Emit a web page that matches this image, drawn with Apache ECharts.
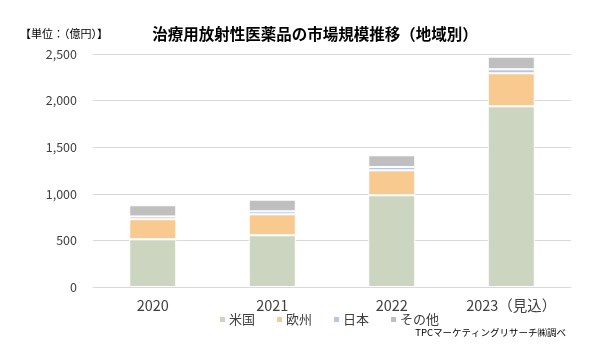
<!DOCTYPE html>
<html><head><meta charset="utf-8">
<script src="https://cdn.jsdelivr.net/npm/echarts@6/dist/echarts.min.js"></script>
<style>html,body{margin:0;padding:0;background:#fff}#c{width:600px;height:348px}</style>
</head><body><div id="c"></div>
<script>
const categories = ['2020', '2021', '2022', '2023（見込）'];
const seriesNames = ['米国', '欧州', '日本', 'その他'];
const usa = [512, 555, 984, 1939];
const europe = [215, 225, 268, 354];
const japan = [30, 32, 36, 43];
const others = [120, 125, 125, 135];
const yTicks = [0, 500, 1000, 1500, 2000, 2500];
const colors = ['#cbd5bf', '#f8ca8f', '#b5c7e4', '#bfbfbf'];
const FONT = '"Noto Sans CJK JP", "Noto Sans", sans-serif';

const values = [usa, europe, japan, others];
const chart = echarts.init(document.getElementById('c'), null, {renderer: 'canvas'});
chart.setOption({
  animation: false,
  textStyle: {fontFamily: FONT},
  grid: {left: 93, right: 29, top: 54, bottom: 61},
  title: {
    text: '治療用放射性医薬品の市場規模推移（地域別）',
    left: 310, textAlign: 'center', top: 21,
    textStyle: {fontFamily: FONT, fontSize: 15.5, fontWeight: 'bold', color: '#000'}
  },
  graphic: [
    {type: 'text', left: 20, top: 28, style: {text: '【単位：（億円）】', font: '11px ' + FONT, fill: '#000'}},
    {type: 'text', right: 34, top: 328, style: {text: 'TPCマーケティングリサーチ㈱調べ', font: '9.5px ' + FONT, fill: '#000'}}
  ],
  legend: {
    data: seriesNames,
    left: 213, top: 308,
    icon: 'rect', itemWidth: 7, itemHeight: 7, itemGap: 20,
    textStyle: {fontFamily: FONT, fontSize: 13, color: '#404040', padding: [0, 0, 0, -2]}
  },
  xAxis: {
    type: 'category', data: categories,
    axisLine: {lineStyle: {color: '#d9d9d9', width: 1}},
    axisTick: {show: false},
    axisLabel: {fontFamily: FONT, fontSize: 14.5, color: '#404040', margin: 11}
  },
  yAxis: {
    type: 'value', min: yTicks[0], max: yTicks[yTicks.length - 1], interval: 500,
    axisLine: {show: false}, axisTick: {show: false},
    splitLine: {lineStyle: {color: '#d9d9d9', width: 1}},
    axisLabel: {
      fontFamily: FONT, fontSize: 12.5, color: '#404040', margin: 16,
      formatter: v => v.toLocaleString('en-US')
    }
  },
  series: seriesNames.map((n, i) => ({
    name: n, type: 'bar', stack: 'total', data: values[i],
    barWidth: 47,
    itemStyle: {color: colors[i], borderColor: '#fff', borderWidth: 1}
  }))
});
</script></body></html>
